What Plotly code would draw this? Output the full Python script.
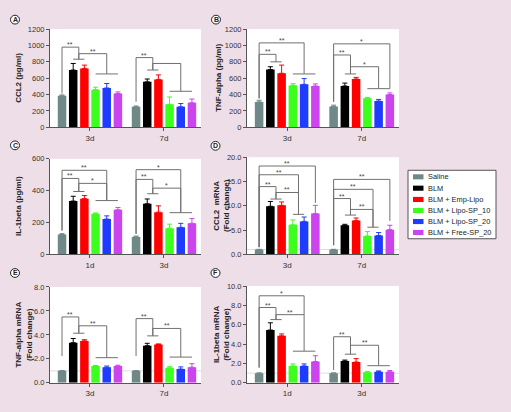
import plotly.graph_objects as go

W, H = 511, 412
FONT = "Liberation Sans, Arial, sans-serif"

series_names = ["Saline", "BLM", "BLM + Emp-Lipo", "BLM + Lipo-SP_10",
                "BLM + Lipo-SP_20", "BLM + Free-SP_20"]
series_colors = ["#6f8888", "#000000", "#ff0000", "#3cff1e", "#1e3cff", "#cc44ee"]

# ---------------- data (series-major: 6 series x 2 time points) ----------------
a_time = ["3d", "7d"]
a_mean = [[385, 250], [700, 555], [720, 585], [460, 280], [480, 250], [412, 300]]
a_err = [[10, 10], [80, 35], [40, 55], [30, 90], [55, 40], [20, 45]]

b_time = ["3d", "7d"]
b_mean = [[310, 255], [705, 505], [660, 590], [512, 355], [525, 320], [505, 400]]
b_err = [[20, 15], [35, 35], [100, 20], [20, 10], [70, 20], [25, 20]]

c_time = ["1d", "3d"]
c_mean = [[125, 110], [335, 318], [350, 265], [255, 165], [222, 170], [280, 195]]
c_err = [[5, 5], [30, 30], [20, 40], [5, 25], [20, 25], [15, 30]]

d_time = ["3d", "7d"]
d_mean = [[1.0, 1.0], [9.9, 6.0], [10.1, 7.0], [6.1, 3.8], [6.8, 3.9], [8.4, 5.1]]
d_err = [[0.05, 0.05], [1.0, 0.2], [0.7, 0.5], [1.0, 0.9], [0.9, 0.6], [1.7, 0.9]]

e_time = ["3d", "7d"]
e_mean = [[1.0, 1.0], [3.35, 3.1], [3.5, 3.2], [1.4, 1.25], [1.3, 1.15], [1.4, 1.3]]
e_err = [[0.02, 0.02], [0.35, 0.2], [0.1, 0.05], [0.05, 0.1], [0.1, 0.18], [0.07, 0.3]]

f_time = ["1d", "3d"]
f_mean = [[1.0, 1.0], [5.45, 2.25], [4.85, 2.15], [1.75, 1.1], [1.75, 1.15], [2.2, 1.15]]
f_err = [[0.02, 0.02], [0.75, 0.1], [0.2, 0.35], [0.2, 0.08], [0.2, 0.08], [0.6, 0.12]]

# significance brackets: (group, from bar, to bar, y top, y left end, y right end, label)
a_brackets = [(0, 0, 1.5, 980, 412, 832, "**"), (0, 1.5, 4, 900, 832, 652, "**"),
              (1, 0, 1.5, 852, 312, 700, "**"), (1, 1.5, 4, 780, 700, 440, "")]
a_lines = [(0, 1, 2, 832), (0, 3, 5, 652), (1, 1, 2, 700), (1, 3, 5, 440)]

b_brackets = [(0, 0, 4, 1032, 352, 652, "**"), (0, 0, 1.5, 892, 352, 800, "**"),
              (1, 0, 5, 1020, 312, 472, "*"), (1, 0, 1.5, 884, 312, 652, "**"),
              (1, 1.5, 4, 740, 652, 472, "*")]
b_lines = [(0, 1, 2, 800), (0, 3, 5, 652), (1, 1, 2, 652), (1, 3, 5, 472)]

c_brackets = [(0, 0, 4, 528, 150, 338, "**"), (0, 0, 1.5, 477, 150, 395, "**"),
              (0, 1.5, 4, 446, 395, 338, "*"),
              (1, 0, 4, 532, 129, 262, "*"), (1, 0, 1.5, 471, 129, 381, "**"),
              (1, 1.5, 4, 416, 381, 262, "*")]
c_lines = [(0, 1, 2, 395), (0, 3, 5, 338), (1, 1, 2, 381), (1, 3, 5, 262)]

d_brackets = [(0, 0, 5, 18.2, 1.5, 10.6, "**"), (0, 0, 3.5, 16.4, 1.5, 8.25, "**"),
              (0, 0, 1.5, 13.96, 1.5, 11.4, "**"), (0, 1.5, 3.5, 12.75, 11.4, 8.25, "**"),
              (1, 0, 5, 15.45, 1.9, 6.9, "**"), (1, 0, 3.5, 13.4, 1.9, 5.6, "**"),
              (1, 0, 1.5, 11.5, 1.9, 8.1, "**"), (1, 1.5, 3.5, 9.26, 8.1, 5.6, "**")]
d_lines = [(0, 1, 2, 11.4), (0, 3, 4, 8.25), (1, 1, 2, 8.1), (1, 3, 4, 5.6)]

e_brackets = [(0, 0, 1.5, 5.5, 2.23, 4.14, "**"), (0, 1.5, 4, 4.76, 4.14, 2.1, "**"),
              (1, 0, 1.5, 5.36, 2.23, 3.92, "**"), (1, 1.5, 4, 4.54, 3.92, 2.15, "**")]
e_lines = [(0, 1, 2, 4.14), (0, 3, 5, 2.1), (1, 1, 2, 3.92), (1, 3, 5, 2.15)]

f_brackets = [(0, 0, 4, 8.99, 1.58, 7.04, "*"), (0, 0, 1.5, 7.78, 1.58, 6.53, "**"),
              (0, 1.5, 4, 7.04, 6.53, 3.27, "**"),
              (1, 0, 1.5, 4.76, 1.33, 2.96, "**"), (1, 1.5, 4, 3.88, 2.96, 1.77, "**")]
f_lines = [(0, 1, 2, 6.53), (0, 3, 5, 3.27), (1, 1, 2, 2.96), (1, 3, 5, 1.77)]

panels = [
    dict(letter="A", title="CCL2 (pg/ml)", time=a_time, mean=a_mean, err=a_err,
         brackets=a_brackets, lines=a_lines, ymax=1200, dtick=200, fmt="d", ref=False),
    dict(letter="B", title="TNF-alpha (pg/ml)", time=b_time, mean=b_mean, err=b_err,
         brackets=b_brackets, lines=b_lines, ymax=1200, dtick=200, fmt="d", ref=False),
    dict(letter="C", title="IL-1beta (pg/ml)", time=c_time, mean=c_mean, err=c_err,
         brackets=c_brackets, lines=c_lines, ymax=600, dtick=200, fmt="d", ref=False),
    dict(letter="D", title="CCL2  mRNA<br>(Fold change)", time=d_time, mean=d_mean, err=d_err,
         brackets=d_brackets, lines=d_lines, ymax=20, dtick=5, fmt=".1f", ref=True),
    dict(letter="E", title="TNF-alpha mRNA<br>(Fold change)", time=e_time, mean=e_mean, err=e_err,
         brackets=e_brackets, lines=e_lines, ymax=8, dtick=2, fmt=".1f", ref=True),
    dict(letter="F", title="IL-1beta mRNA<br>(Fold change)", time=f_time, mean=f_mean, err=f_err,
         brackets=f_brackets, lines=f_lines, ymax=10, dtick=2, fmt=".1f", ref=True),
]

# ---------------- layout geometry (pixels) ----------------
boxes = [  # x0, x1, ytop, ybottom
    (50, 201, 25.7, 126), (247, 399, 25.7, 126),
    (50, 201, 158.3, 256), (247, 399, 156.7, 256),
    (50, 201, 289.3, 387.3), (247, 399, 288.3, 387.3),
]
title_pos = [(18.5, 76), (218.5, 76), (18.5, 207), (221.5, 206), (24, 338), (221.5, 338)]
letter_pos = [(15, 16), (216, 16), (15, 144.5), (215.5, 145), (15, 275), (215.5, 275)]

BARGAP = 0.094
SLOT = (1 - BARGAP) / 6
XRANGE = [-0.54, 1.5]


def bar_x(group, idx):
    return group + (idx - 2.5) * SLOT


def px(x):
    return x / W


def py(y):
    return 1 - y / H


fig = go.Figure()
layout = dict(
    width=W, height=H, margin=dict(l=0, r=0, t=0, b=0),
    paper_bgcolor="#eedee7", plot_bgcolor="#ffffff",
    barmode="group", bargap=BARGAP, bargroupgap=0.24,
    showlegend=False, font=dict(family=FONT, size=8, color="#333333"),
)
shapes = []
annotations = []
AX = "#555555"

for n, (p, box) in enumerate(zip(panels, boxes), start=1):
    sfx = "" if n == 1 else str(n)
    xa, ya = "x" + sfx, "y" + sfx
    x0, x1, yt, yb = box
    layout["xaxis" + sfx] = dict(
        domain=[px(x0), px(x1)], range=XRANGE, anchor=ya,
        tickmode="array", tickvals=[0, 1], ticktext=p["time"],
        showline=True, linecolor=AX, linewidth=1, ticks="outside", ticklen=3,
        tickcolor=AX, tickfont=dict(size=8, color="#333333", family=FONT),
        showgrid=False, zeroline=False, fixedrange=True)
    layout["yaxis" + sfx] = dict(
        domain=[py(yb), py(yt)], range=[0, p["ymax"]], anchor=xa,
        tick0=0, dtick=p["dtick"], tickformat=p["fmt"],
        showline=True, linecolor=AX, linewidth=1, ticks="outside", ticklen=3,
        tickcolor=AX, tickfont=dict(size=7.5, color="#333333", family=FONT),
        showgrid=False, zeroline=False, fixedrange=True)

    if p["ref"]:
        shapes.append(dict(type="line", xref=xa + " domain", yref=ya, x0=0, x1=1,
                           y0=1, y1=1, line=dict(color="#dddddd", width=1), layer="below"))

    for j, name in enumerate(series_names):
        fig.add_trace(go.Bar(
            x=[0, 1], y=p["mean"][j], name=name, xaxis=xa, yaxis=ya,
            marker=dict(color=series_colors[j], line=dict(width=0)),
            error_y=dict(type="data", symmetric=False, array=p["err"][j],
                         arrayminus=[0, 0], color=series_colors[j],
                         thickness=1, width=2.5),
            hoverinfo="skip"))

    for g, a, b, top, yl, yr, lab in p["brackets"]:
        xl, xr = bar_x(g, a), bar_x(g, b)
        fig.add_trace(go.Scatter(
            x=[xl, xl, xr, xr], y=[yl, top, top, yr], mode="lines",
            line=dict(color="#707070", width=1), xaxis=xa, yaxis=ya,
            hoverinfo="skip"))
        if lab:
            annotations.append(dict(x=(xl + xr) / 2, y=top, xref=xa, yref=ya,
                                    text=lab, showarrow=False, yanchor="bottom",
                                    yshift=-3, font=dict(size=7, color="#444444")))
    for g, a, b, yv in p["lines"]:
        fig.add_trace(go.Scatter(
            x=[bar_x(g, a), bar_x(g, b)], y=[yv, yv], mode="lines",
            line=dict(color="#707070", width=1), xaxis=xa, yaxis=ya,
            hoverinfo="skip"))

    tx, ty = title_pos[n - 1]
    annotations.append(dict(x=px(tx), y=py(ty), xref="paper", yref="paper",
                            text="<b>" + p["title"] + "</b>", textangle=-90,
                            showarrow=False, xanchor="center", yanchor="middle",
                            font=dict(size=8, color="#222222", family=FONT)))
    lx, ly = letter_pos[n - 1]
    shapes.append(dict(type="circle", xref="paper", yref="paper",
                       x0=px(lx - 4.5), x1=px(lx + 4.5), y0=py(ly + 4.5), y1=py(ly - 4.5),
                       line=dict(color="#222222", width=1), fillcolor="#ffffff"))
    annotations.append(dict(x=px(lx), y=py(ly), xref="paper", yref="paper",
                            text="<b>" + p["letter"] + "</b>", showarrow=False,
                            xanchor="center", yanchor="middle",
                            font=dict(size=7, color="#222222", family=FONT)))

# ---------------- manual legend ----------------
leg_x0, leg_x1, leg_y0, leg_y1 = 408, 496, 170, 240
shapes.append(dict(type="rect", xref="paper", yref="paper",
                   x0=px(leg_x0), x1=px(leg_x1), y0=py(leg_y1), y1=py(leg_y0),
                   line=dict(color="#555555", width=1), fillcolor="#ffffff"))
row_y = [176.7, 188.3, 199.8, 211.1, 222.4, 233.6]
for j, name in enumerate(series_names):
    yc = row_y[j]
    shapes.append(dict(type="rect", xref="paper", yref="paper",
                       x0=px(413), x1=px(423.5), y0=py(yc + 2.6), y1=py(yc - 2.6),
                       line=dict(width=0), fillcolor=series_colors[j]))
    annotations.append(dict(x=px(426), y=py(yc), xref="paper", yref="paper",
                            text=name, showarrow=False, xanchor="left", yanchor="middle",
                            font=dict(size=7.4, color="#222222", family=FONT)))

layout["shapes"] = shapes
layout["annotations"] = annotations
fig.update_layout(**layout)
fig.write_html("out.html", config={"displayModeBar": False},
               post_script="document.body.style.margin='0px';document.body.style.overflow='hidden';")
